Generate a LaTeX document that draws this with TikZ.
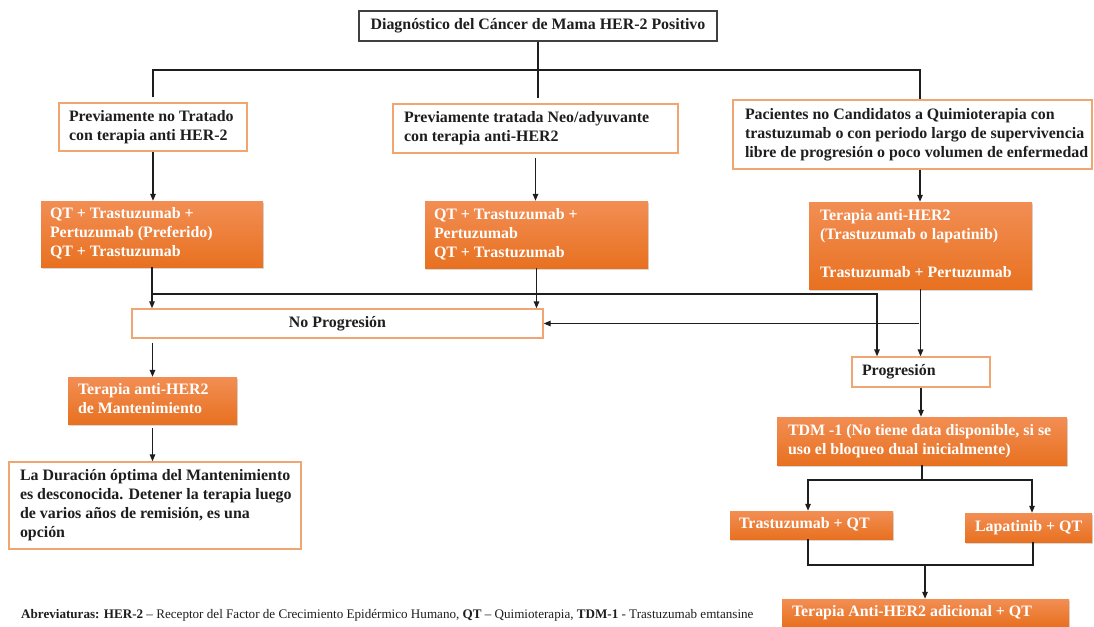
\documentclass[tikz,border=0pt]{standalone}
\usepackage{fontspec}
\setmainfont{Liberation Serif}
\usetikzlibrary{arrows.meta,shadows}
\definecolor{otop}{RGB}{242,142,84}
\definecolor{obot}{RGB}{232,113,32}
\definecolor{oline}{RGB}{240,165,115}
\definecolor{ink}{RGB}{30,30,30}
\newcommand{\lefttext}[2]{\makebox[#1][l]{\begin{tabular}{@{}l@{}}#2\end{tabular}}}
\begin{document}
\begin{tikzpicture}[x=1pt,y=-1pt,
 every node/.style={font=\fontsize{15.9}{19}\selectfont\bfseries},
 wbox/.style={draw=oline,line width=1.3pt,fill=white,inner ysep=0pt,text=ink},
 obox/.style={top color=otop,bottom color=obot,draw=none,text=white,inner ysep=0pt,
   drop shadow={opacity=0.3,shadow xshift=1pt,shadow yshift=-2pt}},
 conn/.style={draw=ink,line width=1.3pt},
 arr/.style={conn,-{Triangle[length=7pt,width=5.5pt]}}]
\useasboundingbox[fill=white] (0,0) rectangle (1094,626);

% boxes
\node[draw=ink!85,line width=1.4pt,fill=white,minimum width=358pt,minimum height=30pt,inner sep=0pt,text=ink] (top) at (538,26) {Diagnóstico del Cáncer de Mama HER-2 Positivo};

\node[wbox,inner xsep=10pt,minimum height=48pt] (b1) at (153,127) {\lefttext{168pt}{Previamente no Tratado\\con terapia anti HER-2}};
\node[wbox,inner xsep=11pt,minimum height=49pt] (b2) at (535.5,128.5) {\lefttext{263pt}{Previamente tratada Neo/adyuvante\\con terapia anti-HER2}};
\node[wbox,inner xsep=12pt,minimum height=69pt] (b3) at (912.5,134.5) {\lefttext{335pt}{Pacientes no Candidatos a Quimioterapia con\\trastuzumab o con periodo largo de supervivencia\\libre de progresión o poco volumen de enfermedad}};

\node[obox,inner xsep=9pt,minimum height=66pt] (or1) at (152,234) {\lefttext{204pt}{QT + Trastuzumab +\\Pertuzumab (Preferido)\\QT + Trastuzumab}};
\node[obox,inner xsep=9pt,minimum height=67pt] (or2) at (536.5,234.5) {\lefttext{205pt}{QT + Trastuzumab +\\Pertuzumab\\QT + Trastuzumab}};
\node[obox,inner xsep=11pt,minimum height=87pt] (or3) at (920.5,245.5) {\lefttext{201pt}{Terapia anti-HER2\\(Trastuzumab o lapatinib)\\ \\Trastuzumab + Pertuzumab}};

\node[wbox,minimum width=411pt,minimum height=29pt] (noprog) at (337.5,323.5) {No Progresión};
\node[wbox,inner xsep=10pt,minimum height=30pt] (prog) at (921,372) {\lefttext{118pt}{Progresión}};

\node[obox,inner xsep=10pt,minimum height=47pt] (or4) at (152.5,400.5) {\lefttext{149pt}{Terapia anti-HER2\\de Mantenimiento}};
\node[wbox,inner xsep=11pt,minimum height=87pt] (fl) at (155,505.5) {\lefttext{270pt}{La Duración óptima del Mantenimiento\\es desconocida. Detener la terapia luego\\de varios años de remisión, es una\\opción}};

\node[obox,inner xsep=11pt,minimum height=48pt] (tdm) at (922,441) {\lefttext{268pt}{TDM -1 (No tiene data disponible, si se\\uso el bloqueo dual inicialmente)}};
\node[obox,inner xsep=9pt,minimum height=28pt] (trast) at (811.5,525) {\lefttext{145pt}{Trastuzumab + QT}};
\node[obox,inner xsep=10pt,minimum height=29pt] (lapat) at (1028.5,527.5) {\lefttext{107pt}{Lapatinib + QT}};
\node[obox,inner xsep=10pt,minimum height=27pt] (fr) at (925.5,612.5) {\lefttext{267pt}{Terapia Anti-HER2 adicional + QT}};

\node[anchor=west,inner sep=0pt,text=ink,font=\fontsize{13.1}{15}\selectfont] (abbr) at (21,615) {\textbf{Abreviaturas: HER-2} – Receptor del Factor de Crecimiento Epidérmico Humano, \textbf{QT} – Quimioterapia, \textbf{TDM-1} - Trastuzumab emtansine};

% connectors
\coordinate (busR) at (920,70);
\draw[conn] (top.south) -- ([yshift=5pt]top.south |- b2.north);
\draw[conn] ([yshift=5pt]b1.north) |- (busR) -- (busR |- b3.north);
\draw[arr] (b1.south) -- (b1.south |- or1.north);
\draw[arr] ([yshift=-4pt]b2.south) -- (b2.south |- or2.north);
\draw[arr] (b3.south -| busR) -- (busR |- or3.north);

\coordinate (pL) at (877,294);
\draw[arr] (or1.south) -- (or1.south |- noprog.north);
\draw[arr] (or1.south |- pL) -- (pL) -- (pL |- prog.north);
\draw[arr] (or2.south) -- (or2.south |- noprog.north);
\draw[arr] (or3.south) -- (or3.south |- prog.north);
\draw[arr] ([xshift=-2pt]or3.south |- noprog.east) -- (noprog.east);

\draw[arr] ([yshift=-4pt]noprog.south -| or4.north) -- (or4.north);
\draw[arr] ([yshift=-4pt]or4.south) -- (or4.south |- fl.north);

\draw[arr] (prog.south) -- (prog.south |- tdm.north);
\coordinate (tb) at (922,480);
\draw[conn] (tdm.south) -- (tb);
\draw[arr] (tb) -| ([xshift=-3.5pt]trast.north);
\draw[arr] (tb) -| ([xshift=3.5pt]lapat.north);
\coordinate (mb) at (925,565);
\draw[conn] ([xshift=-3.5pt]trast.south) |- (mb);
\draw[conn] ([xshift=4.5pt]lapat.south) |- (mb);
\draw[arr] (mb) -- (mb |- fr.north);
\end{tikzpicture}
\end{document}
